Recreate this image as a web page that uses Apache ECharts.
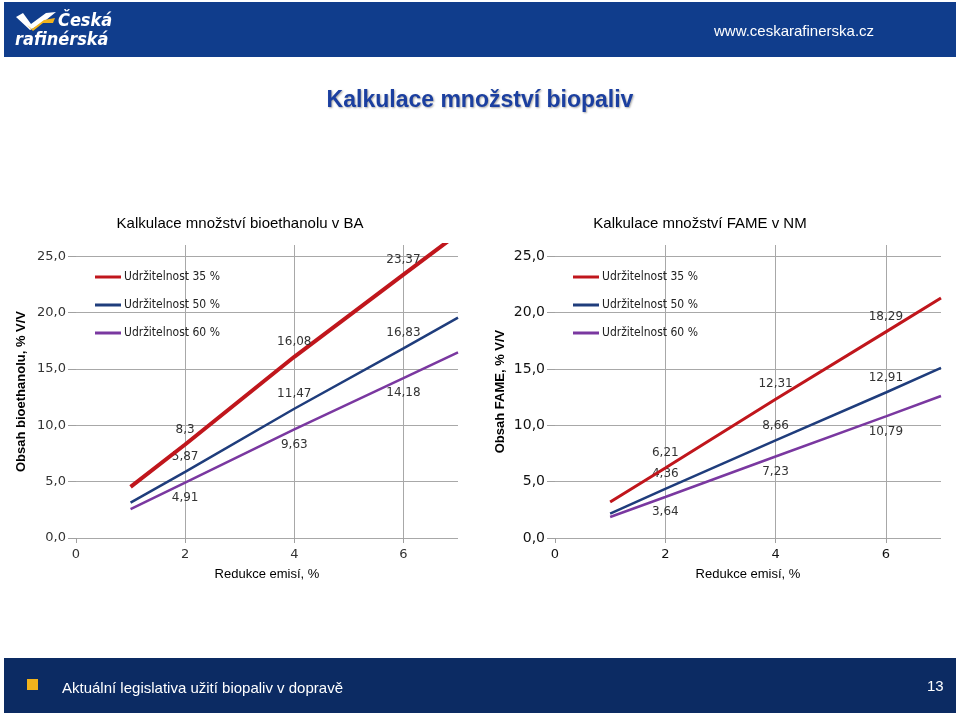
<!DOCTYPE html>
<html><head><meta charset="utf-8">
<script src="https://cdn.jsdelivr.net/npm/echarts@6/dist/echarts.min.js"></script>
<style>html,body{margin:0;padding:0;background:#fff}#c{width:960px;height:716px}</style>
</head><body><div id="c"></div>
<script>
// ---- data ----
var xValues = [1, 2, 4, 6, 7];
var labelledX = [2, 4, 6];
var seriesNames = ['Udržitelnost 35 %', 'Udržitelnost 50 %', 'Udržitelnost 60 %'];
// bioethanol in BA
var ethanol35 = [4.53, 8.3, 16.08, 23.37, 27.0];
var ethanol50 = [3.14, 5.87, 11.47, 16.83, 19.56];
var ethanol60 = [2.57, 4.91, 9.63, 14.18, 16.48];
// FAME in NM
var fame35 = [3.19, 6.21, 12.31, 18.29, 21.3];
var fame50 = [2.16, 4.36, 8.66, 12.91, 15.09];
var fame60 = [1.86, 3.64, 7.23, 10.79, 12.6];
var yTicks = [0, 5, 10, 15, 20, 25];
var xTicks = [0, 2, 4, 6];

var colors = ['#c0161c', '#1f3d7c', '#7a38a0'];
var widths = [[4, 2.5, 2.5], [3, 2.5, 2.5]];
var labelPos = ['top', 'top', 'bottom'];

function fmt(v){ return String(v).replace('.', ','); }
function buildData(vals, si){
  return xValues.map(function(x, i){
    var item = {value: [x, vals[i]]};
    if (labelledX.indexOf(x) >= 0) {
      item.label = {show: true, position: labelPos[si], distance: 9,
        formatter: function(p){ return fmt(p.value[1]); },
        fontFamily: 'DejaVu Sans', fontSize: 12, color: '#333'};
    }
    return item;
  });
}

var chart = echarts.init(document.getElementById('c'));
var grids = [
  {left: 76, right: 502, top: 245, bottom: 178},
  {left: 555, right: 19, top: 245, bottom: 178}
];
function xAxis(gi){
  return {type: 'value', gridIndex: gi, min: 0, max: 7, interval: 2,
    name: 'Redukce emisí, %', nameLocation: 'middle', nameGap: 30,
    nameTextStyle: {fontFamily: 'Liberation Sans', fontSize: 13, color: '#000'},
    axisLine: {show: false},
    axisTick: {show: true, length: 5, lineStyle: {color: '#a0a0a0'}},
    axisLabel: {showMaxLabel: false, margin: 10, fontFamily: 'DejaVu Sans', fontSize: 13, color: gi ? '#111' : '#333',
      formatter: function(v){ return xTicks.indexOf(v) >= 0 ? String(v) : ''; }},
    splitLine: {show: true, showMinLine: false, showMaxLine: false, lineStyle: {color: '#a8a8a8', width: 1}}
  };
}
function yAxis(gi, name){
  return {type: 'value', gridIndex: gi, min: 0, max: 26, interval: 5,
    name: name, nameLocation: 'middle', nameGap: gi ? 48 : 48,
    nameTextStyle: {fontFamily: 'Liberation Sans', fontSize: 13, color: '#000', fontWeight: 'bold'},
    axisLine: {show: false},
    axisTick: {show: true, length: 8, lineStyle: {color: '#a0a0a0'}},
    axisLabel: {showMaxLabel: false, margin: 10, fontFamily: 'DejaVu Sans', fontSize: gi ? 14 : 13, color: gi ? '#111' : '#333',
      formatter: function(v){ return yTicks.indexOf(v) >= 0 ? v.toFixed(1).replace('.', ',') : ''; }},
    splitLine: {show: true, showMaxLine: false, lineStyle: {color: '#a8a8a8', width: 1}}
  };
}
var series = [];
[[ethanol35, ethanol50, ethanol60], [fame35, fame50, fame60]].forEach(function(set, gi){
  set.forEach(function(vals, si){
    series.push({type: 'line', name: seriesNames[si], xAxisIndex: gi, yAxisIndex: gi,
      data: buildData(vals, si), symbol: 'circle', symbolSize: 0, showSymbol: true,
      lineStyle: {color: colors[si], width: widths[gi][si]}, itemStyle: {color: colors[si]},
      label: {show: false}, emphasis: {disabled: true}, animation: false, z: 3 - si});
  });
});
function legend(left){
  return {orient: 'vertical', left: left, top: 266, icon: 'rect', itemWidth: 26, itemHeight: 3,
    itemGap: 16, data: seriesNames, selectedMode: false,
    textStyle: {fontFamily: 'DejaVu Sans Condensed', fontSize: 12, color: '#222', padding: [0,0,0,-2]}};
}
var option = {
  animation: false,
  backgroundColor: '#fff',
  color: colors,
  grid: grids,
  xAxis: [xAxis(0), xAxis(1)],
  yAxis: [yAxis(0, 'Obsah bioethanolu, % V/V'), yAxis(1, 'Obsah FAME, % V/V')],
  legend: [legend(90), legend(568)],
  title: [
    {text: 'Kalkulace množství biopaliv', left: 'center', top: 84,
      textStyle: {fontFamily: 'Liberation Sans', fontSize: 23, fontWeight: 'bold', color: '#1b3fa0',
        textShadowColor: 'rgba(0,0,0,0.35)', textShadowBlur: 2, textShadowOffsetX: 1, textShadowOffsetY: 1}},
    {text: 'Kalkulace množství bioethanolu v BA', left: 235, textAlign: 'center', top: 211,
      textStyle: {fontFamily: 'Liberation Sans', fontSize: 15, fontWeight: 'normal', color: '#000'}},
    {text: 'Kalkulace množství FAME v NM', left: 695, textAlign: 'center', top: 211,
      textStyle: {fontFamily: 'Liberation Sans', fontSize: 15, fontWeight: 'normal', color: '#000'}}
  ],
  graphic: [
    {type: 'rect', shape: {x: 4, y: 2, width: 952, height: 55}, style: {fill: '#103d8c'}, z: -1},
    {type: 'polygon', shape: {points: [[16,17],[23,13],[31,24],[46,13],[56,12],[41,24],[30,30]]}, style: {fill: '#ffffff'}},
    {type: 'polygon', shape: {points: [[27,25],[32,29],[44,20],[55,18],[53,23],[43,23],[33,31]]}, style: {fill: '#f2b31c'}},
    {type: 'text', style: {text: 'Česká', x: 58, y: 12, fill: '#fff', fontFamily: 'DejaVu Sans Condensed', fontSize: 18, fontWeight: 'bold', fontStyle: 'italic'}},
    {type: 'text', style: {text: 'rafinérská', x: 15, y: 31, fill: '#fff', fontFamily: 'DejaVu Sans Condensed', fontSize: 18, fontWeight: 'bold', fontStyle: 'italic'}},
    {type: 'text', style: {text: 'www.ceskarafinerska.cz', x: 714, y: 24, fill: '#fff', fontFamily: 'Liberation Sans', fontSize: 15}},
    {type: 'rect', shape: {x: 4, y: 658, width: 952, height: 55}, style: {fill: '#0c2b63'}, z: -1},
    {type: 'rect', shape: {x: 27, y: 679, width: 11, height: 11}, style: {fill: '#f2b31c'}},
    {type: 'text', style: {text: 'Aktuální legislativa užití biopaliv v dopravě', x: 62, y: 681, fill: '#fff', fontFamily: 'Liberation Sans', fontSize: 15}},
    {type: 'text', style: {text: '13', x: 927, y: 679, fill: '#fff', fontFamily: 'Liberation Sans', fontSize: 15}}
  ],
  series: series
};
chart.setOption(option);
</script></body></html>
